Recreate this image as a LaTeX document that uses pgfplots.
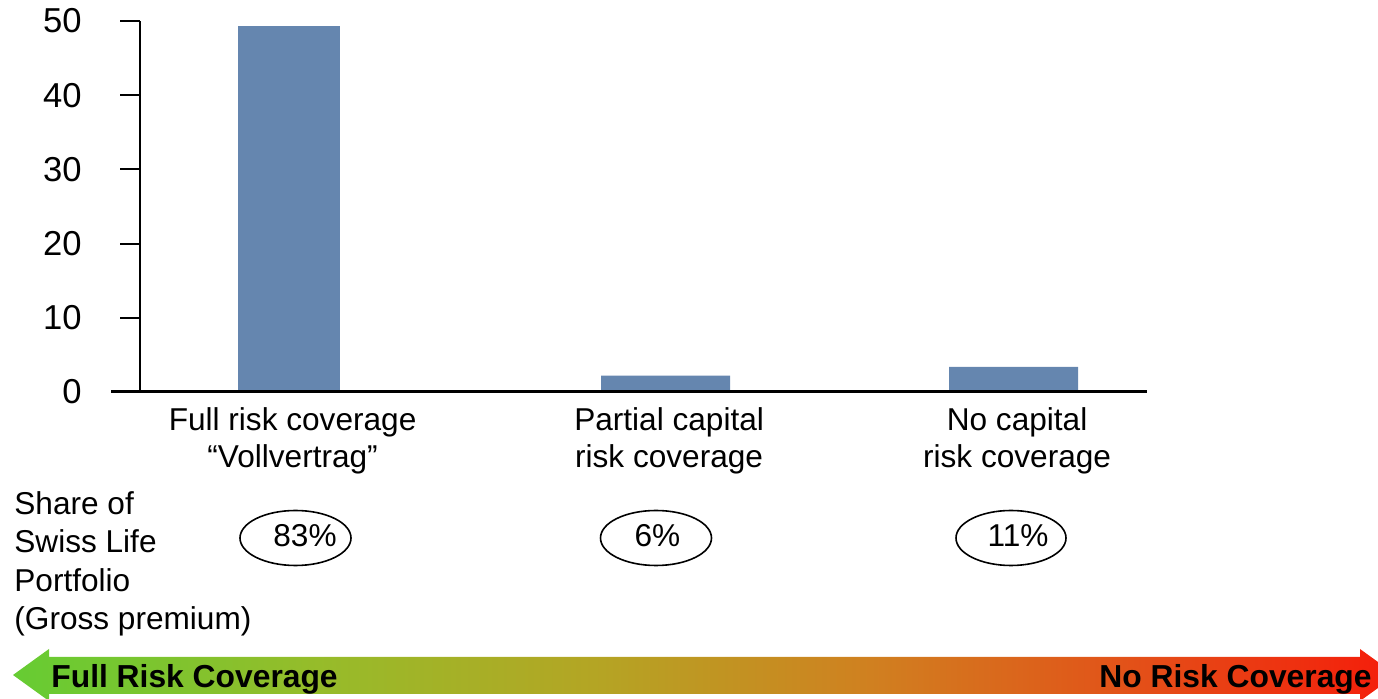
\documentclass[border=0pt]{standalone}
\usepackage{pgfplots}
\pgfplotsset{compat=1.18}
\usepackage{fontspec}
\setmainfont{Liberation Sans}

\definecolor{barblue}{RGB}{101,134,175}
\definecolor{arrowgreen}{RGB}{102,204,51}
\definecolor{arrowred}{RGB}{245,28,10}

% green -> olive -> orange -> red band (path spans 25bp..75bp of the shading)
\pgfdeclarehorizontalshading{coverage}{100bp}{%
  color(0bp)=(arrowgreen);
  color(25bp)=(arrowgreen);
  color(36bp)=(rgb,255:red,150;green,188;blue,42);
  color(46bp)=(rgb,255:red,180;green,165;blue,36);
  color(56bp)=(rgb,255:red,208;green,128;blue,32);
  color(66bp)=(rgb,255:red,228;green,78;blue,24);
  color(75bp)=(arrowred);
  color(100bp)=(arrowred)}

\begin{document}
\begin{tikzpicture}
\useasboundingbox (0,0) rectangle (689pt,-349.5pt);
\begin{axis}[
  at={(70pt,-196pt)}, anchor=south west,
  scale only axis, width=503.5pt, height=185.5pt,
  xmin=140, xmax=1147, ymin=0, ymax=50,
  axis x line*=bottom, axis y line*=left,
  x axis line style={draw=none},
  y axis line style={line width=1pt},
  tick align=outside, major tick length=10pt,
  ytick={0,10,20,30,40,50},
  ytick style={line width=1pt, black},
  yticklabel style={font=\fontsize{17.3}{20}\selectfont, inner sep=0pt, xshift=-19pt},
  xtick={289,665.5,1013.5},
  xticklabels={{Full risk coverage\\“Vollvertrag”},{Partial capital\\risk coverage},{No capital\\risk coverage}},
  xtick style={draw=none},
  xticklabel style={align=center, font=\fontsize{15.8}{18.75}\selectfont, inner sep=0pt, yshift=2.5pt, xshift=1.8pt},
  /pgf/number format/assume math mode=true,
  clip=false,
]
% premium volume by coverage type
\addplot[ybar, bar width=102, fill=barblue, draw=none] coordinates {(289,49.3)};
\addplot[ybar, bar width=129, fill=barblue, draw=none] coordinates {(665.5,2.2) (1013.5,3.4)};
\draw[line width=1.5pt] (axis cs:111,0) -- (axis cs:1147,0);
\end{axis}

\begin{scope}[x=0.5pt, y=-0.5pt]
  % portfolio shares
  \begin{scope}[font=\fontsize{15.8}{19}\selectfont]
    \node[anchor=base west, inner sep=0pt] at (14,515) {Share of};
    \node[anchor=base west, inner sep=0pt] at (14,553) {Swiss Life};
    \node[anchor=base west, inner sep=0pt] at (14,592) {Portfolio};
    \node[anchor=base west, inner sep=0pt] at (14,630) {(Gross premium)};
    \draw[line width=0.8pt] (295.5,538) ellipse [x radius=55.5, y radius=27.5];
    \draw[line width=0.8pt] (656,538) ellipse [x radius=55.5, y radius=27.5];
    \draw[line width=0.8pt] (1011,538) ellipse [x radius=55, y radius=27.5];
    \node[anchor=base, inner sep=0pt] at (305,547) {83\%};
    \node[anchor=base, inner sep=0pt] at (657.5,547) {6\%};
    \node[anchor=base, inner sep=0pt] at (1018,547) {11\%};
  \end{scope}
  % coverage arrow
  \begin{scope}
    \clip (0,0) rectangle (1378,699);
    \shade[shading=coverage]
      (13,675) -- (49,649) -- (49,657) -- (1360,657) -- (1360,649) -- (1396,675)
      -- (1360,701) -- (1360,694) -- (49,694) -- (49,701) -- cycle;
  \end{scope}
  \node[anchor=base west, inner sep=0pt, font=\fontsize{15.9}{19}\selectfont\bfseries] at (51,688) {Full Risk Coverage};
  \node[anchor=base east, inner sep=0pt, font=\fontsize{15.9}{19}\selectfont\bfseries] at (1372,688) {No Risk Coverage};
\end{scope}
\end{tikzpicture}
\end{document}
